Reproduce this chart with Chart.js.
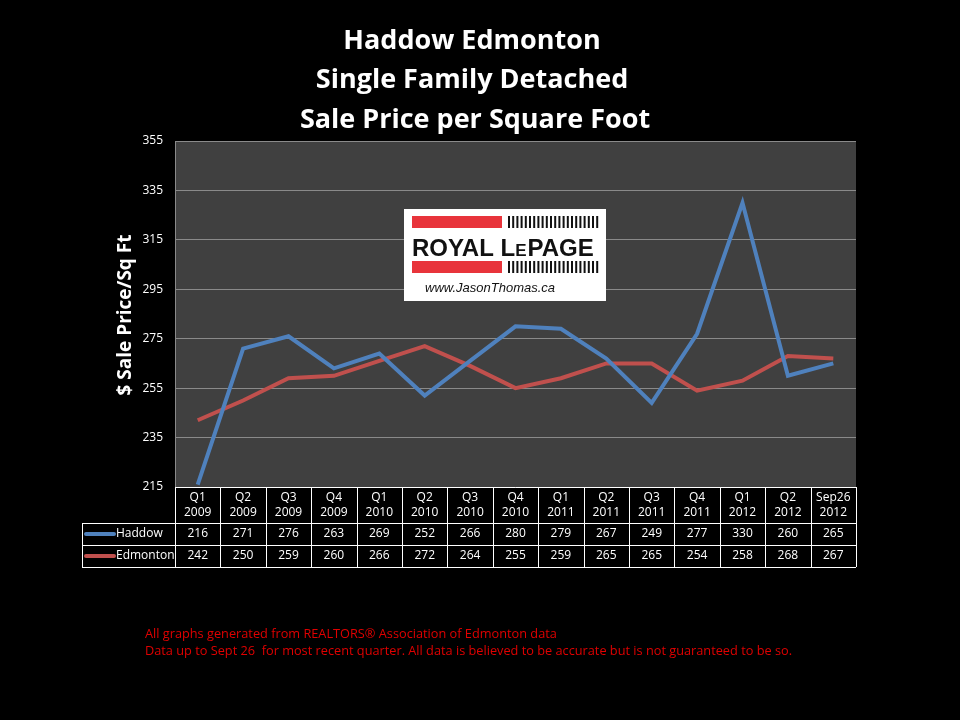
<!DOCTYPE html>
<html>
<head>
<meta charset="utf-8">
<script src="https://cdn.jsdelivr.net/npm/chart.js@4"></script>
<style>
  html, body { margin: 0; padding: 0; background: #000; }
  #wrap { width: 960px; height: 720px; }
</style>
</head>
<body>
<div id="wrap"><canvas id="priceChart" width="960" height="720"></canvas></div>
<script>
const quarters = ["Q1", "Q2", "Q3", "Q4", "Q1", "Q2", "Q3", "Q4", "Q1", "Q2", "Q3", "Q4", "Q1", "Q2", "Sep26"];
const years = ["2009", "2009", "2009", "2009", "2010", "2010", "2010", "2010", "2011", "2011", "2011", "2011", "2012", "2012", "2012"];
const haddow = [216, 271, 276, 263, 269, 252, 266, 280, 279, 267, 249, 277, 330, 260, 265];
const edmonton = [242, 250, 259, 260, 266, 272, 264, 255, 259, 265, 265, 254, 258, 268, 267];
const yTicks = [215, 235, 255, 275, 295, 315, 335, 355];

const labels = quarters.map((q, i) => q + " " + years[i]);
const font = "'Open Sans', 'DejaVu Sans', sans-serif";

// background, plot fill, titles, logo, table, footer
const decorPlugin = {
  id: "decor",
  beforeDraw(chart) {
    const { ctx, chartArea: a } = chart;
    ctx.save();
    ctx.fillStyle = "#000";
    ctx.fillRect(0, 0, chart.width, chart.height);
    ctx.fillStyle = "#404040";
    ctx.fillRect(a.left, a.top, a.right - a.left, a.bottom - a.top);
    ctx.restore();
  },
  afterDatasetsDraw(chart) {
    const { ctx } = chart;
    ctx.save();
    // logo
    ctx.fillStyle = "#fff";
    ctx.fillRect(404, 209, 202, 92);
    ctx.fillStyle = "#e8343b";
    ctx.fillRect(412, 216, 90, 12);
    ctx.fillRect(412, 261, 90, 12);
    ctx.fillStyle = "#111";
    for (let x = 508; x < 598; x += 4.2) {
      ctx.fillRect(x, 216, 2, 12);
      ctx.fillRect(x, 261, 2, 12);
    }
    ctx.font = "bold 24px 'Liberation Sans', Arial, sans-serif";
    ctx.textAlign = "left";
    ctx.textBaseline = "alphabetic";
    ctx.fillText("ROYAL L", 412, 256);
    let w = ctx.measureText("ROYAL L").width;
    ctx.font = "bold 17px 'Liberation Sans', Arial, sans-serif";
    ctx.fillText("E", 412 + w, 256);
    let w2 = ctx.measureText("E").width;
    ctx.font = "bold 24px 'Liberation Sans', Arial, sans-serif";
    ctx.fillText("PAGE", 412 + w + w2 + 1, 256);
    ctx.font = "italic 13px 'Liberation Sans', Arial, sans-serif";
    ctx.fillText("www.JasonThomas.ca", 425, 292);
    ctx.restore();
  },
  afterDraw(chart) {
    const { ctx, chartArea: a, scales } = chart;
    const xs = scales.x;
    const n = labels.length;
    const cw = (a.right - a.left) / n;
    ctx.save();

    // titles
    ctx.fillStyle = "#fff";
    ctx.textAlign = "center";
    ctx.textBaseline = "middle";
    ctx.font = "bold 27px " + font;
    ctx.fillText("Haddow Edmonton", 472, 41);
    ctx.fillText("Single Family Detached", 472, 80);
    ctx.fillText("Sale Price per Square Foot", 475, 120);

    // y axis title
    ctx.save();
    ctx.translate(126, 315);
    ctx.rotate(-Math.PI / 2);
    ctx.font = "bold 19px " + font;
    ctx.fillText("$ Sale Price/Sq Ft", 0, 0);
    ctx.restore();

    // data table
    const rowTop = a.bottom;
    const r1 = rowTop + 36, r2 = r1 + 22, r3 = r2 + 22;
    const tl = 82;
    ctx.strokeStyle = "#fff";
    ctx.lineWidth = 1;
    ctx.beginPath();
    ctx.moveTo(a.left, rowTop + 0.5); ctx.lineTo(a.right, rowTop + 0.5);
    ctx.moveTo(tl, r1 + 0.5); ctx.lineTo(a.right, r1 + 0.5);
    ctx.moveTo(tl, r2 + 0.5); ctx.lineTo(a.right, r2 + 0.5);
    ctx.moveTo(tl, r3 + 0.5); ctx.lineTo(a.right, r3 + 0.5);
    ctx.moveTo(tl + 0.5, r1); ctx.lineTo(tl + 0.5, r3);
    for (let i = 0; i <= n; i++) {
      const x = Math.round(a.left + i * cw) + 0.5;
      ctx.moveTo(x, rowTop); ctx.lineTo(x, r3);
    }
    ctx.stroke();

    ctx.fillStyle = "#fff";
    ctx.font = "12px " + font;
    ctx.textAlign = "center";
    for (let i = 0; i < n; i++) {
      const cx = xs.getPixelForValue(i);
      ctx.fillText(quarters[i], cx, rowTop + 11);
      ctx.fillText(years[i], cx, rowTop + 26);
      ctx.fillText(String(haddow[i]), cx, r1 + 11);
      ctx.fillText(String(edmonton[i]), cx, r2 + 11);
    }
    // row labels with swatches
    const rows = [["Haddow", "#4f81bd", r1 + 11], ["Edmonton", "#c0504d", r2 + 11]];
    rows.forEach(([name, col, y]) => {
      ctx.strokeStyle = col;
      ctx.lineWidth = 4;
      ctx.lineCap = "round";
      ctx.beginPath();
      ctx.moveTo(86, y); ctx.lineTo(114, y);
      ctx.stroke();
      ctx.fillStyle = "#fff";
      ctx.textAlign = "left";
      ctx.fillText(name, 116, y);
    });

    // footer, squeezed to the reference's narrow face
    const foot1 = "All graphs generated from REALTORS\u00ae Association of Edmonton data";
    const foot2 = "Data up to Sept 26  for most recent quarter. All data is believed to be accurate but is not guaranteed to be so.";
    ctx.fillStyle = "#e00000";
    ctx.textAlign = "left";
    ctx.font = "13px " + font;
    const sx = 647 / ctx.measureText(foot2).width;
    ctx.save();
    ctx.translate(145, 0);
    ctx.scale(sx, 1);
    ctx.fillText(foot1, 0, 634);
    ctx.fillText(foot2, 0, 651);
    ctx.restore();
    ctx.restore();
  }
};

const chartCtx = document.getElementById("priceChart").getContext("2d");
const priceChart = new Chart(chartCtx, {
  type: "line",
  data: {
    labels: labels,
    datasets: [
      {
        label: "Haddow",
        data: haddow,
        borderColor: "#4f81bd",
        borderWidth: 4,
        pointRadius: 0,
        tension: 0,
      },
      {
        label: "Edmonton",
        data: edmonton,
        borderColor: "#c0504d",
        borderWidth: 4,
        pointRadius: 0,
        tension: 0,
      },
    ],
  },
  options: {
    responsive: false,
    animation: false,
    layout: {
      padding: { left: 0, top: 141, right: 104, bottom: 233 },
    },
    scales: {
      x: {
        type: "category",
        offset: true,
        display: false,
      },
      y: {
        min: 215,
        max: 355,
        afterFit(scale) {
          scale.width = 175;
        },
        afterBuildTicks(scale) {
          scale.ticks = yTicks.map((v) => ({ value: v }));
        },
        ticks: {
          color: "#fff",
          padding: 12,
          font: { size: 12, family: font },
        },
        grid: {
          color: "#8a8a8a",
          drawTicks: false,
        },
        border: {
          color: "#8a8a8a",
        },
      },
    },
    plugins: {
      legend: { display: false },
      title: { display: false },
      tooltip: { enabled: false },
    },
  },
  plugins: [decorPlugin],
});
</script>
</body>
</html>
